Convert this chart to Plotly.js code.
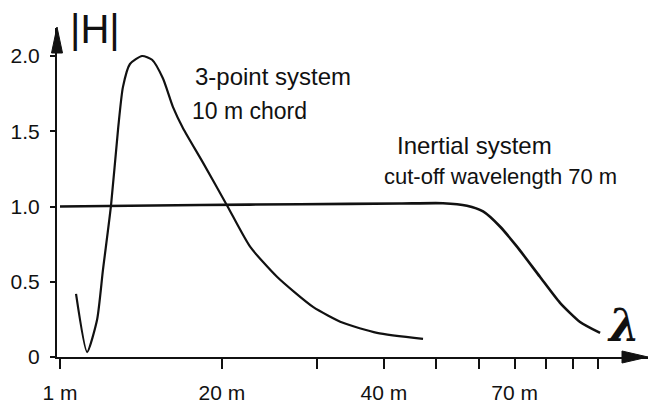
<!DOCTYPE html>
<html>
<head>
<meta charset="utf-8">
<script src="https://cdn.plot.ly/plotly-3.0.1.min.js"></script>
<style>html,body{margin:0;padding:0;background:#fff;}#chart{width:649px;height:405px;}</style>
</head>
<body>
<div id="chart"></div>
<script>
// Wavelength (m) and |H| values
const threePointLambda = [10.71, 11.23, 11.72, 12.02, 12.44, 12.82, 13.09, 13.49, 14.21, 14.83, 15.54, 16.22, 16.93, 18.45, 20.44, 22.56, 25.31, 29.53, 33.57, 38.84, 47.29];
const threePointH      = [0.42, 0.033, 0.247, 0.58, 1.007, 1.513, 1.793, 1.947, 2.0, 1.975, 1.85, 1.66, 1.52, 1.29, 1.007, 0.733, 0.533, 0.333, 0.227, 0.16, 0.12];

const inertialLambda = [10.0, 18.2, 27.93, 42.85, 51.5, 57.07, 61.14, 65.73, 70.7, 78.0, 85.0, 92.6, 100.9];
const inertialH      = [1.0, 1.01, 1.015, 1.02, 1.022, 1.005, 0.967, 0.867, 0.733, 0.533, 0.36, 0.233, 0.16];

const xTickVals = [10, 20, 30, 40, 50, 60, 70, 80, 90, 100];
const xTickText = ['1 m', '20 m', '', '40 m', '', '', '70 m', '', '', ''];
const yTickVals = [0, 0.5, 1.0, 1.5, 2.0];
const yTickText = ['0', '0.5', '1.0', '1.5', '2.0'];

const labelThreePoint = '3-point system';
const labelChord = '10 m chord';
const labelInertial = 'Inertial system';
const labelCutoff = 'cut-off wavelength 70 m';
const yAxisLabel = '|H|';
const xAxisLabel = 'λ';

const ink = '#111';
const font = 'Liberation Sans, Arial, sans-serif';

const traces = [
  {x: threePointLambda, y: threePointH, type: 'scatter', mode: 'lines',
   line: {color: ink, width: 2.2, shape: 'spline', smoothing: 0.6}, hoverinfo: 'skip'},
  {x: inertialLambda, y: inertialH, type: 'scatter', mode: 'lines',
   line: {color: ink, width: 2.6, shape: 'spline', smoothing: 0.6}, hoverinfo: 'skip'}
];

const layout = {
  width: 649, height: 405,
  margin: {l: 57, r: 1, t: 28, b: 48},
  paper_bgcolor: '#fff', plot_bgcolor: '#fff',
  showlegend: false,
  font: {family: font, color: ink, size: 21},
  xaxis: {
    type: 'log', range: [0.99442, 2.09294],
    showgrid: false, zeroline: false,
    showline: true, linecolor: ink, linewidth: 2,
    tickmode: 'array', tickvals: xTickVals, ticktext: xTickText,
    ticks: 'outside', ticklen: 10, tickwidth: 2, tickcolor: ink,
    ticklabelstandoff: 6,
    tickfont: {family: font, size: 21, color: ink}
  },
  yaxis: {
    range: [0, 2.186],
    showgrid: false, zeroline: false,
    showline: true, linecolor: ink, linewidth: 2,
    tickmode: 'array', tickvals: yTickVals, ticktext: yTickText,
    ticks: 'outside', ticklen: 5, tickwidth: 2, tickcolor: ink,
    ticklabelstandoff: 6,
    tickfont: {family: font, size: 21, color: ink}
  },
  shapes: [
    {type: 'path', xref: 'paper', yref: 'paper', xsizemode: 'pixel', ysizemode: 'pixel',
     xanchor: 0, yanchor: 1, path: 'M0,1 L-5.5,-25 L5.5,-25 Z',
     fillcolor: ink, line: {color: ink, width: 1}},
    {type: 'path', xref: 'paper', yref: 'paper', xsizemode: 'pixel', ysizemode: 'pixel',
     xanchor: 1, yanchor: 0, path: 'M0,0 L-26,6 L-26,-6 Z',
     fillcolor: ink, line: {color: ink, width: 1}}
  ],
  annotations: [
    {text: yAxisLabel, xref: 'paper', yref: 'paper', x: 0.0186, y: 0.997, xanchor: 'left', yanchor: 'middle',
     showarrow: false, font: {family: font, size: 40, color: ink}},
    {text: xAxisLabel, xref: 'paper', yref: 'paper', x: 0.958, y: 0.097, xanchor: 'center', yanchor: 'middle',
     showarrow: false, font: {family: 'DejaVu Serif, Liberation Serif, serif', size: 44, color: ink, weight: 'bold', style: 'italic'}},
    {text: labelThreePoint, xref: 'paper', yref: 'paper', x: 0.2301, y: 0.854, xanchor: 'left', yanchor: 'middle',
     showarrow: false, font: {family: font, size: 24, color: ink}},
    {text: labelChord, xref: 'paper', yref: 'paper', x: 0.225, y: 0.748, xanchor: 'left', yanchor: 'middle',
     showarrow: false, font: {family: font, size: 23, color: ink}},
    {text: labelInertial, xref: 'paper', yref: 'paper', x: 0.572, y: 0.644, xanchor: 'left', yanchor: 'middle',
     showarrow: false, font: {family: font, size: 24, color: ink}},
    {text: labelCutoff, xref: 'paper', yref: 'paper', x: 0.550, y: 0.550, xanchor: 'left', yanchor: 'middle',
     showarrow: false, font: {family: font, size: 22, color: ink}}
  ]
};

Plotly.newPlot('chart', traces, layout, {staticPlot: true, displayModeBar: false});
</script>
</body>
</html>
